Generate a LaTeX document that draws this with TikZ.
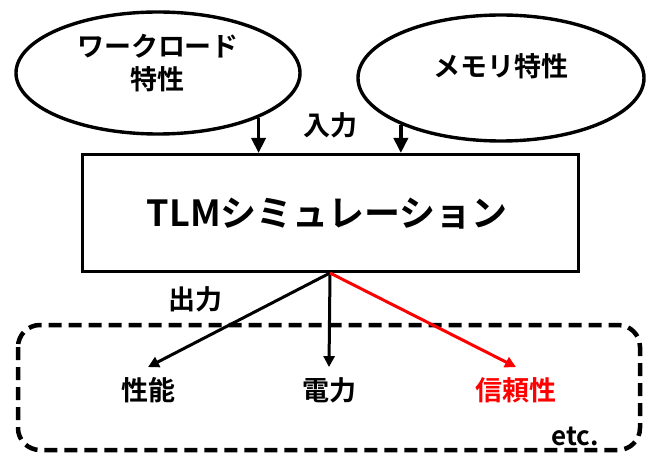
\documentclass[tikz,border=0pt]{standalone}
\usepackage{fontspec}
\setmainfont{Noto Sans CJK JP}[BoldFont={* Bold}]
\usetikzlibrary{shapes.geometric,arrows.meta}
\begin{document}
\begin{tikzpicture}[x=1pt,y=-1pt,
  txt/.style={font=\bfseries\fontsize{27}{33}\selectfont, align=center, inner sep=0pt},
  ell/.style={draw, ellipse, line width=3.4pt, inner sep=0pt},
  inarrow/.style={line width=3.6pt, -{Triangle[length=15pt,width=14pt]}},
  outarrow/.style={line width=3pt, -{Triangle[length=11pt,width=11pt]}},
]
\useasboundingbox (0,0) rectangle (651,457);
\node[ell, minimum width=284pt, minimum height=122pt] (wl) at (158,73) {};
\node[txt] at (158,63) {ワークロード\\特性};
\node[ell, minimum width=286pt, minimum height=126pt] (mem) at (501,78) {};
\node[txt] at (501,66) {メモリ特性};
\node[draw, line width=3pt, minimum width=496pt, minimum height=117pt, inner sep=0pt] (tlm) at (330,213) {};
\node[txt, font=\bfseries\fontsize{36}{42}\selectfont] (tlmt) at (327,214) {TLMシミュレーション};
\node[txt] (in) at (330,125) {入力};
\draw[inarrow] (wl.-24) -- (wl.-24 |- tlm.north);
\draw[inarrow] (mem.-155) -- (mem.-155 |- tlm.north);
\node[txt] (out) at (195,299) {出力};
\draw[line width=4.5pt, dash pattern=on 13pt off 7pt, rounded corners=22pt] (18,325) rectangle (640,450);
\node[txt] (perf) at (148,390) {性能};
\node[txt] (pow) at (329,390) {電力};
\node[txt, text=red] (rel) at (516,390) {信頼性};
\node[txt, font=\bfseries\fontsize{26}{30}\selectfont] (etc) at (575,436) {etc.};
\coordinate (src) at (tlm.south);
\draw[outarrow] (src) -- ([yshift=10pt]perf.north);
\draw[outarrow] (src) -- ([yshift=10pt]pow.north);
\draw[outarrow, red] (src) -- ([yshift=10pt]rel.north);
\end{tikzpicture}
\end{document}
